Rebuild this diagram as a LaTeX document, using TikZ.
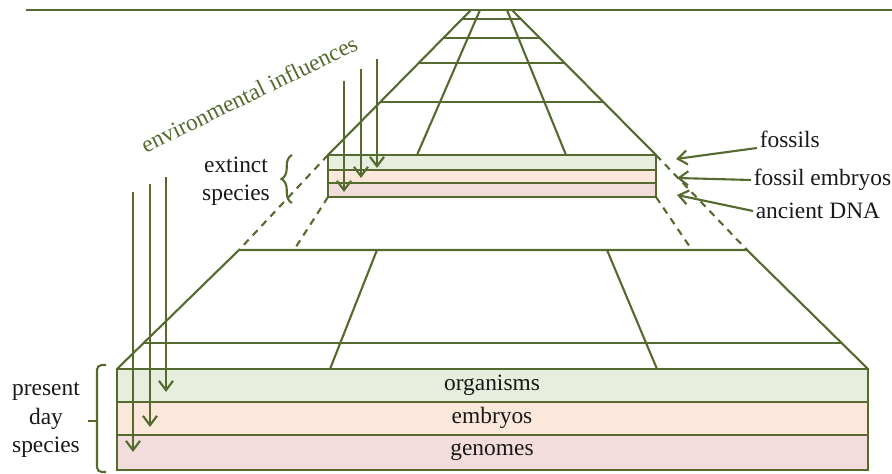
\documentclass[tikz,border=0pt]{standalone}
\usepackage{fontspec}
\setmainfont{Liberation Serif}
\usetikzlibrary{arrows.meta, positioning, calc, decorations.pathreplacing}
\definecolor{leaf}{RGB}{84,106,46}
\definecolor{orgfill}{RGB}{232,238,221}
\definecolor{embfill}{RGB}{252,232,218}
\definecolor{genfill}{RGB}{242,220,220}
\tikzset{
  stroke/.style={draw=leaf, line width=0.9pt}, % every green line
  influence/.style={stroke, -{Straight Barb[length=4pt,width=6pt]}}, % arrows from above
  pointer/.style={stroke, -{Straight Barb[length=4pt,width=6pt]}}, % label arrows
  guide/.style={stroke, dash pattern=on 3pt off 2.5pt}, % dashed projection
  tag/.style={font=\fontsize{10}{12}\selectfont, inner sep=1pt, text=black!90},
}

\begin{document}
\begin{tikzpicture}[x=0.015cm, y=-0.015cm]
  \useasboundingbox (0,0) rectangle (892,474);

  % horizon
  \coordinate (hz-l) at (26,10);
  \coordinate (hz-r) at (892,10);
  \draw[stroke] (hz-l) -- (hz-r);

  % extinct species slab
  \coordinate (us-nw) at (328,155);
  \coordinate (us-ne) at (656,155);
  \coordinate (us-sw) at (328,197);
  \coordinate (us-se) at (656,197);
  \filldraw[stroke, fill=orgfill] (328,155) rectangle (656,170);
  \filldraw[stroke, fill=embfill] (328,170) rectangle (656,183);
  \filldraw[stroke, fill=genfill] (328,183) rectangle (656,197);

  % far grid up to the horizon
  \coordinate (apex-l) at (471,10);
  \coordinate (apex-r) at (512,10);
  \draw[stroke] (us-nw) -- (apex-l);
  \draw[stroke] (us-ne) -- (apex-r);
  \draw[stroke] (417,155) -- (480,10);
  \draw[stroke] (566,155) -- (507,10);
  \foreach \t in {0.366,0.634,0.807,0.938}
    \draw[stroke] ($(us-nw)!\t!(apex-l)$) -- ($(us-ne)!\t!(apex-r)$);

  % near grid
  \coordinate (lt-nw) at (239,250);
  \coordinate (lt-ne) at (747,250);
  \coordinate (ls-nw) at (117,369);
  \coordinate (ls-ne) at (868,369);
  \draw[stroke] (ls-nw) -- (lt-nw) -- (lt-ne) -- (ls-ne);
  \draw[stroke] ($(ls-nw)!0.218!(lt-nw)$) -- ($(ls-ne)!0.218!(lt-ne)$);
  \draw[stroke] (330,369) -- (377,250);
  \draw[stroke] (657,369) -- (607,250);

  % projection of the extinct slab
  \draw[guide] (us-nw) -- (lt-nw);
  \draw[guide] (us-sw) -- (294,250);
  \draw[guide] (us-ne) -- (lt-ne);
  \draw[guide] (us-se) -- (692,250);

  % present day species slab
  \filldraw[stroke, fill=orgfill] (117,369) rectangle (868,402);
  \filldraw[stroke, fill=embfill] (117,402) rectangle (868,435);
  \filldraw[stroke, fill=genfill] (117,435) rectangle (868,470);
  \node[tag] (org) at (492,385) {organisms};
  \node[tag] (emb) at (492,418) {embryos};
  \node[tag] (gen) at (492,452) {genomes};

  % environmental influences
  \foreach \x/\ys/\ye in {344/81/192, 361/69/178, 377/59/168}
    \draw[influence] (\x,\ys) -- (\x,\ye);
  \foreach \x/\ys/\ye in {133/192/452, 150/184/427, 166/177/392}
    \draw[influence] (\x,\ys) -- (\x,\ye);
  \node[tag, text=leaf, rotate=26] (env) at (249,94) {environmental influences};

  % groups
  \node[tag, align=center] (extinct) at (236,181) {extinct\\species};
  \draw[stroke, decorate, decoration={brace, amplitude=4.5pt}] (292,203) -- (292,155);
  \node[tag, align=center] (present) at (46,420) {present\\day\\species};
  \draw[stroke, rounded corners=2pt] (106,365) -- (97,365) -- (97,472) -- (106,472);
  \draw[stroke] (97,421) -- (88,421);

  % evidence from the past
  \node[tag, anchor=base west] (fossils) at (757,148) {fossils};
  \node[tag, anchor=west] (fossilemb) at (751,180) {fossil embryos};
  \node[tag, anchor=west] (dna) at (753,211) {ancient DNA};
  \coordinate (fossils-tip) at (676,159);
  \coordinate (fossilemb-tip) at (677,178);
  \coordinate (dna-tip) at (677,195);
  \draw[pointer] (fossils.base west) -- (fossils-tip);
  \draw[pointer] (fossilemb.west) -- (fossilemb-tip);
  \draw[pointer] (dna.west) -- (dna-tip);
\end{tikzpicture}
\end{document}
